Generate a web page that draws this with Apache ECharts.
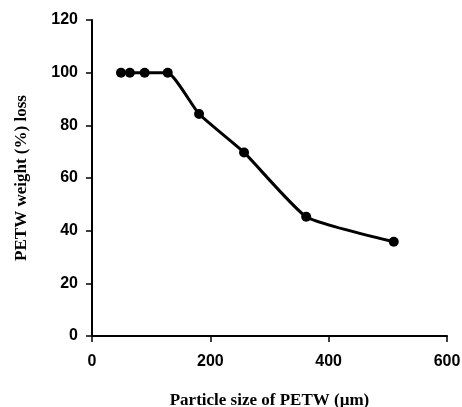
<!DOCTYPE html>
<html>
<head>
<meta charset="utf-8">
<script src="https://cdn.jsdelivr.net/npm/echarts@6/dist/echarts.min.js"></script>
<style>
  html, body { margin: 0; padding: 0; background: #fff; }
  #chart { width: 462px; height: 407px; }
</style>
</head>
<body>
<div id="chart"></div>
<script>
const particleSize = [49, 64, 89, 128, 181, 257, 362, 510];
const weightLoss = [100, 100, 100, 100, 84.3, 69.7, 45.3, 35.8];

const chart = echarts.init(document.getElementById('chart'));
const tickFont = { color: '#000', fontFamily: 'Liberation Sans, Arial', fontWeight: 'bold', fontSize: 16 };
const nameFont = { color: '#000', fontFamily: 'Liberation Serif, Times New Roman', fontWeight: 'bold', fontSize: 17 };

chart.setOption({
  animation: false,
  backgroundColor: '#fff',
  grid: { left: 92, right: 15, top: 20, bottom: 71, outerBoundsMode: 'none' },
  xAxis: {
    type: 'value',
    min: 0, max: 600, interval: 200,
    name: 'Particle size of PETW (µm)',
    nameLocation: 'middle',
    nameGap: 56,
    nameTextStyle: nameFont,
    axisLine: { show: true, lineStyle: { color: '#000', width: 2 } },
    axisTick: { show: true, length: 6, lineStyle: { color: '#000', width: 1.5 } },
    axisLabel: Object.assign({ margin: 18 }, tickFont),
    splitLine: { show: false }
  },
  yAxis: {
    type: 'value',
    min: 0, max: 120, interval: 20,
    name: 'PETW weight (%) loss',
    nameLocation: 'middle',
    nameGap: 62,
    nameTextStyle: nameFont,
    axisLine: { show: true, lineStyle: { color: '#000', width: 2 } },
    axisTick: { show: true, length: 6, lineStyle: { color: '#000', width: 1.5 } },
    axisLabel: Object.assign({ margin: 14 }, tickFont),
    splitLine: { show: false }
  },
  series: [{
    type: 'line',
    data: particleSize.map((x, i) => [x, weightLoss[i]]),
    smooth: 0.15,
    symbol: 'circle',
    symbolSize: 10,
    lineStyle: { color: '#000', width: 3 },
    itemStyle: { color: '#000' }
  }]
});
</script>
</body>
</html>
